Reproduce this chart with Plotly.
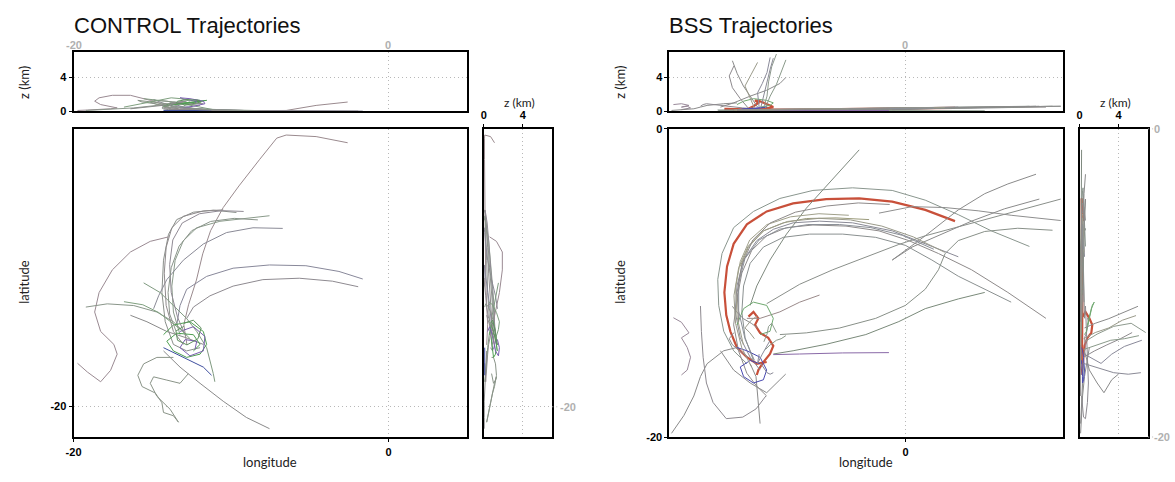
import plotly.graph_objects as go

W, H = 1175, 482


def fx(p):
    return p / W


def fy(p):
    return 1 - p / H


# ---------------- CONTROL trajectories (lon, lat, z) ----------------
ctrl_lon = [
    [-2.6, -4.6, -6.5, -7.1, -8.2, -9.5, -10.5, -11.3, -11.8, -12.2, -12.7, -13.0, -12.8],
    [-9.66, -11.13, -12.39, -13.45, -13.97, -14.29, -14.39, -14.18, -13.66, -12.82, -11.97],
    [-7.56, -9.03, -10.71, -12.18, -13.03, -13.55, -13.76, -13.66, -13.24],
    [-6.72, -8.61, -10.29, -11.76, -13.03, -14.08, -14.60, -14.92],
    [-1.64, -3.15, -5.25, -7.56, -9.87, -11.55, -12.82, -13.24, -13.45],
    [-1.93, -3.57, -5.67, -7.98, -9.87, -11.34, -12.39, -12.82],
    [-13.97, -15.13, -16.39, -17.54, -18.38, -18.66, -18.28, -17.44, -17.23, -17.65, -18.28, -19.12, -19.75],
    [-19.22, -17.86, -16.18, -14.71, -13.66, -12.82],
    [-15.55, -14.50, -13.66, -12.82, -12.18, -11.55, -11.13, -11.03],
    [-14.29, -13.24, -11.97, -10.50, -9.03, -7.56],
    [-13.66, -14.71, -15.55, -15.92, -15.65, -14.81, -14.39, -14.29, -13.66, -13.34, -13.87, -14.71, -15.13, -14.92, -14.08, -13.24, -12.71],
    [-16.39, -15.34, -14.08, -12.82, -11.76],
    [-14.29, -13.66, -12.61, -11.76, -11.55, -11.97, -12.82, -13.66, -14.08, -13.45, -12.39, -11.97, -12.39],
    [-13.24, -12.39, -11.66, -11.76, -12.61, -13.24, -12.92, -12.18, -12.29],
    [-14.29, -13.03, -11.76, -11.24],
    [-10.50, -11.76, -13.03, -13.76, -14.12, -14.24, -14.12, -13.66, -13.03],
    [-9.2, -10.6, -12.0, -13.1, -13.7, -13.9, -13.8, -13.4, -12.9],
    [-8.3, -9.8, -11.3, -12.5, -13.3, -13.8, -14.0, -13.9, -13.5],
    [-16.8, -15.6, -14.6, -13.8, -13.2, -12.6],
    [-13.0, -12.4, -11.9, -12.1, -12.8, -13.4, -13.5, -13.0],
]
ctrl_lat = [
    [-2.9, -2.5, -2.4, -2.6, -4.0, -5.7, -7.1, -8.6, -10.1, -11.8, -13.4, -14.7, -16.0],
    [-7.42, -7.27, -7.40, -7.88, -8.83, -10.51, -12.61, -14.50, -15.97, -16.39, -16.18],
    [-7.63, -7.78, -7.99, -8.41, -9.25, -10.51, -12.19, -13.87, -15.34],
    [-8.45, -8.41, -8.72, -9.46, -10.51, -11.77, -12.82, -13.66],
    [-11.73, -11.24, -10.87, -10.82, -11.03, -11.56, -12.40, -13.45, -14.71],
    [-12.23, -11.87, -11.68, -11.77, -12.19, -12.82, -13.55, -14.29],
    [-9.0, -9.29, -9.98, -11.14, -12.61, -13.87, -15.13, -15.97, -16.60, -17.65, -18.39, -17.76, -17.19],
    [-13.55, -13.34, -13.45, -13.87, -14.50, -15.34],
    [-11.98, -12.61, -13.45, -14.29, -15.13, -16.18, -17.86, -18.39],
    [-16.39, -17.44, -18.49, -19.65, -20.70, -21.43],
    [-16.81, -16.81, -17.23, -17.97, -18.70, -19.12, -19.75, -20.38, -20.59, -21.01, -20.17, -19.33, -18.49, -18.07, -18.28, -18.49, -17.86],
    [-14.08, -14.50, -15.13, -15.55, -15.97],
    [-15.34, -14.71, -14.50, -15.13, -15.97, -16.60, -16.81, -16.39, -15.76, -15.24, -15.34, -15.97, -16.39],
    [-15.13, -14.82, -15.45, -16.39, -16.71, -16.18, -15.66, -15.76, -16.29],
    [-16.18, -16.81, -17.44, -17.97],
    [-7.25, -7.32, -7.67, -8.41, -9.67, -11.35, -13.45, -15.13, -15.97],
    [-7.35, -7.3, -7.5, -8.1, -9.2, -10.8, -12.6, -14.2, -15.4],
    [-7.9, -7.8, -8.0, -8.6, -9.6, -11.0, -12.6, -14.0, -15.1],
    [-13.2, -13.4, -13.9, -14.5, -15.0, -15.6],
    [-14.6, -14.4, -14.9, -15.6, -16.0, -15.7, -15.1, -14.8],
]
ctrl_z = [
    [1.1, 0.7, 0.1, 0.08, 0.08, 0.1, 0.1, 0.1, 0.15, 0.2, 0.3, 0.4, 0.3],
    [0.1, 0.1, 0.15, 0.2, 0.2, 0.3, 0.4, 0.6, 0.8, 0.9, 0.7],
    [0.05, 0.1, 0.2, 0.3, 0.5, 0.7, 0.9, 1.1, 1.0],
    [0.05, 0.05, 0.1, 0.2, 0.4, 0.8, 1.2, 1.4],
    [0.03, 0.03, 0.03, 0.05, 0.1, 0.2, 0.4, 0.6, 0.8],
    [0.03, 0.03, 0.03, 0.05, 0.1, 0.2, 0.3, 0.5],
    [0.6, 1.3, 1.9, 1.9, 1.6, 1.2, 0.8, 0.5, 0.4, 0.3, 0.2, 0.15, 0.1],
    [0.1, 0.2, 0.4, 0.7, 1.0, 1.2],
    [1.5, 1.3, 1.1, 0.8, 0.6, 0.4, 0.2, 0.1],
    [0.3, 0.2, 0.1, 0.05, 0.05, 0.05],
    [0.8, 1.0, 1.2, 1.3, 1.1, 0.9, 0.7, 0.5, 0.4, 0.3, 0.5, 0.8, 1.1, 1.3, 1.2, 1.0, 0.8],
    [0.3, 0.5, 0.8, 1.0, 0.9],
    [0.6, 0.8, 1.0, 1.2, 1.3, 1.2, 1.0, 0.9, 0.8, 0.9, 1.1, 1.3, 1.4],
    [0.4, 0.6, 0.9, 1.2, 1.5, 1.6, 1.4, 1.2, 1.0],
    [0.1, 0.1, 0.1, 0.1],
    [0.1, 0.15, 0.2, 0.3, 0.4, 0.5, 0.7, 0.9, 1.1],
    [0.1, 0.15, 0.2, 0.35, 0.5, 0.7, 0.9, 1.1, 1.2],
    [0.05, 0.1, 0.2, 0.3, 0.45, 0.6, 0.8, 1.0, 1.1],
    [0.5, 0.9, 1.3, 1.6, 1.5, 1.2],
    [0.7, 0.9, 1.1, 1.3, 1.4, 1.2, 1.0, 0.8],
]
ctrl_color = ["#9a8a8e", "#8a8f8a", "#8a9a8a", "#8a8a96", "#88889a", "#8e8a90",
              "#9a8a92", "#8a968a", "#7f9a80", "#8a8a8a", "#8a9488", "#8a8a8a",
              "#4f9f52", "#7a5fae", "#3f4f9f", "#8f8a8c", "#908a94", "#8a948a",
              "#7fa07f", "#5f8f5f"]

# ---------------- BSS trajectories (lon, lat, z) ----------------
bss_lon = [
    [3.15, 1.26, -0.84, -2.94, -5.04, -7.14, -8.82, -10.08, -10.92, -11.34, -11.51, -11.39, -11.13, -10.71, -10.08, -9.45, -8.82],
    [-9.98, -9.66, -9.35, -9.56, -9.24, -8.72, -8.40, -8.61, -9.03, -9.35, -9.45],
    [7.88, 5.46, 3.36, 1.26, -0.84, -3.36, -5.88, -7.98, -9.66, -10.92, -11.66, -11.93, -11.87, -11.55, -10.92, -10.08],
    [3.36, 1.26, -0.84, -3.36, -5.46, -7.14, -8.40, -9.45, -10.29, -10.71, -10.82, -10.50, -9.87, -9.24],
    [8.93, 6.51, 4.20, 2.10, 0.21, -1.68, -3.78, -5.88, -7.56, -8.82, -9.77, -10.40, -10.71, -10.92, -10.61, -10.08, -9.45, -8.82],
    [6.72, 5.04, 3.36, 1.68, 0.00, -1.89, -3.99, -6.09, -7.77, -9.03, -9.87, -10.29, -10.40, -10.19, -9.66],
    [-2.31, -4.41, -6.30, -7.77, -9.03, -9.98, -10.50],
    [-2.94, -4.62, -6.30, -7.56, -8.61, -9.45, -9.87],
    [8.30, 6.51, 5.04, 3.36, 1.26, -0.84],
    [9.87, 7.56, 5.46, 3.36, 1.26, -0.42, -2.52, -4.62, -6.72, -7.98, -8.82],
    [9.35, 7.14, 5.04, 3.36, 2.52, 2.10, 1.26, 0.00, -1.89, -4.20, -6.30, -7.98],
    [5.04, 3.36, 1.26, -0.42, -2.52, -5.04, -7.14, -8.40],
    [-1.05, -3.99, -6.72, -8.40],
    [-1.68, 0.42, 2.52, 4.62, 6.72, 8.61, 9.87],
    [8.51, 6.30, 4.20, 2.10, 0.42, -0.84],
    [-14.75, -14.24, -13.76, -14.24, -13.87, -13.66, -13.87, -14.24],
    [-14.87, -14.08, -13.45, -13.03, -12.61, -11.55, -10.71],
    [-13.03, -12.97, -12.86, -12.65, -12.23, -11.39, -10.34, -9.50, -8.87],
    [-9.24, -9.35, -9.50, -9.87],
    [-11.76, -10.92, -9.87, -8.82, -7.98, -7.61],
    [-5.46, -6.72, -7.98, -9.24, -10.08],
    [-10.71, -10.29, -9.66, -8.82, -8.40, -8.61, -9.24],
    [-10.71, -10.08, -9.24, -8.82, -9.03, -9.66, -10.29, -10.50, -9.87, -9.24],
    [-9.4, -9.8, -10.3, -10.7, -11.0],
    [-9.0, -8.8, -8.7, -8.5, -8.2],
    [-9.2, -9.0, -8.8, -8.6, -8.4],
    [-9.6, -9.9, -10.2, -9.8, -9.4],
    [-9.3, -9.4, -9.1, -8.8, -8.6],
    [-10.0, -10.5, -11.0, -11.2, -10.9],
    [-8.9, -8.6, -8.2, -7.9, -7.6],
    [2.5, 0.5, -1.5, -3.5, -5.5, -7.5, -9.0, -10.0, -10.6, -10.9, -10.8, -10.4, -9.8],
    [1.8, -0.2, -2.2, -4.2, -6.2, -8.0, -9.3, -10.2, -10.6, -10.6, -10.2, -9.6],
    [-3.6, -5.5, -7.3, -8.8, -9.9, -10.5, -10.8, -10.7, -10.3],
    [-1.0, -3.0, -5.0, -7.0, -8.6, -9.7, -10.4, -10.7, -10.6],
]
bss_lat = [
    [-5.98, -5.25, -4.72, -4.51, -4.55, -4.83, -5.35, -6.19, -7.45, -8.92, -10.60, -12.07, -13.12, -14.17, -14.80, -15.22, -15.11],
    [-12.17, -11.86, -12.28, -12.70, -13.22, -13.54, -14.06, -14.59, -15.11, -15.63, -15.95],
    [-7.62, -6.61, -5.56, -4.62, -3.99, -3.82, -3.99, -4.51, -5.35, -6.40, -8.08, -9.76, -11.44, -13.12, -14.38, -15.22],
    [-8.29, -7.45, -6.61, -6.09, -5.98, -6.09, -6.51, -7.24, -8.50, -10.18, -11.86, -13.54, -14.80, -15.63],
    [-12.28, -10.60, -9.13, -8.08, -7.24, -6.61, -6.30, -6.23, -6.40, -6.93, -7.87, -9.34, -11.02, -12.70, -14.38, -15.84, -16.68, -17.31],
    [-11.23, -10.39, -9.55, -8.50, -7.55, -7.03, -6.82, -6.82, -7.03, -7.66, -8.71, -10.18, -11.86, -13.54, -15.01],
    [-5.88, -5.77, -5.81, -6.09, -6.61, -7.66, -8.92],
    [-1.36, -3.25, -5.14, -6.82, -8.50, -10.18, -11.44],
    [-2.94, -3.57, -4.20, -5.25, -6.93, -8.50],
    [-4.55, -5.18, -5.77, -6.36, -6.93, -7.49, -8.29, -9.13, -10.07, -10.81, -11.33],
    [-6.57, -6.44, -6.65, -7.24, -8.08, -9.13, -10.39, -11.44, -12.28, -12.91, -13.22, -13.33],
    [-10.60, -11.02, -11.65, -12.49, -13.33, -13.96, -14.38, -14.59],
    [-14.50, -14.52, -14.59, -14.63],
    [-5.46, -5.04, -5.10, -5.31, -5.60, -5.81, -5.94],
    [-4.55, -5.18, -5.98, -6.93, -7.66, -8.50],
    [-12.24, -12.53, -13.22, -13.54, -14.17, -14.80, -15.63, -15.95],
    [-19.73, -18.57, -17.31, -16.05, -15.22, -14.38, -14.17],
    [-11.48, -13.12, -14.80, -16.47, -17.73, -18.78, -18.68, -18.15, -17.31],
    [-19.10, -17.52, -16.05, -15.22],
    [-14.38, -15.63, -16.47, -17.10, -16.26, -15.89],
    [-10.77, -11.23, -11.86, -12.28, -12.28],
    [-12.70, -11.65, -11.23, -11.44, -12.28, -13.12, -13.33],
    [-14.17, -14.38, -14.80, -15.63, -16.26, -16.47, -16.05, -15.43, -15.01, -15.22],
    [-12.9, -12.6, -12.3, -11.9, -11.5],
    [-13.8, -13.3, -12.8, -12.6, -13.2],
    [-15.2, -15.5, -15.8, -15.9, -15.8],
    [-13.6, -13.2, -12.9, -12.4, -12.1],
    [-14.6, -15.2, -14.6, -14.1, -13.7],
    [-14.8, -14.4, -14.0, -13.6, -13.2],
    [-14.3, -14.0, -13.7, -13.6, -13.4],
    [-8.0, -7.0, -6.3, -5.9, -5.8, -6.0, -6.6, -7.6, -9.0, -10.8, -12.6, -14.2, -15.4],
    [-7.8, -6.9, -6.4, -6.2, -6.2, -6.5, -7.2, -8.4, -10.0, -11.8, -13.6, -15.0],
    [-5.6, -5.5, -5.7, -6.2, -7.2, -8.6, -10.3, -12.2, -14.0],
    [-4.9, -4.8, -5.0, -5.4, -6.1, -7.2, -8.8, -10.6, -12.5],
]
bss_z = [
    [0.4, 0.35, 0.3, 0.25, 0.2, 0.2, 0.2, 0.2, 0.25, 0.3, 0.3, 0.3, 0.3, 0.25, 0.2, 0.2, 0.2],
    [0.3, 0.6, 1.0, 1.3, 1.2, 0.8, 0.5, 0.4, 0.3, 0.2, 0.2],
    [0.6, 0.55, 0.5, 0.45, 0.4, 0.35, 0.3, 0.25, 0.2, 0.2, 0.15, 0.15, 0.1, 0.1, 0.1, 0.1],
    [0.5, 0.45, 0.4, 0.35, 0.3, 0.25, 0.2, 0.2, 0.15, 0.15, 0.1, 0.1, 0.1, 0.1],
    [0.5, 0.45, 0.4, 0.4, 0.35, 0.3, 0.3, 0.25, 0.2, 0.2, 0.15, 0.15, 0.1, 0.1, 0.1, 0.1, 0.1, 0.1],
    [0.45, 0.4, 0.4, 0.35, 0.3, 0.3, 0.25, 0.2, 0.2, 0.15, 0.15, 0.1, 0.1, 0.1, 0.1],
    [0.3, 0.25, 0.2, 0.2, 0.15, 0.15, 0.1],
    [0.2, 0.2, 0.15, 0.15, 0.1, 0.1, 0.1],
    [0.6, 0.5, 0.45, 0.4, 0.3, 0.2],
    [0.6, 0.55, 0.5, 0.45, 0.4, 0.35, 0.3, 0.25, 0.2, 0.2, 0.2],
    [0.6, 0.55, 0.5, 0.45, 0.4, 0.35, 0.3, 0.25, 0.2, 0.2, 0.15, 0.15],
    [0.05, 0.05, 0.05, 0.05, 0.05, 0.05, 0.1, 0.1],
    [0.1, 0.1, 0.1, 0.1],
    [0.3, 0.4, 0.45, 0.5, 0.55, 0.6, 0.6],
    [0.6, 0.5, 0.45, 0.4, 0.3, 0.2],
    [0.8, 0.9, 0.7, 0.5, 0.6, 0.4, 0.3, 0.2],
    [0.1, 0.2, 0.3, 0.5, 0.7, 0.9, 1.0],
    [0.6, 0.7, 0.8, 0.9, 0.8, 0.6, 0.4, 0.3, 0.2],
    [0.1, 0.2, 0.3, 0.4],
    [0.5, 1.0, 1.8, 2.5, 3.3, 4.0],
    [0.3, 0.25, 0.2, 0.2, 0.2],
    [0.8, 1.2, 1.5, 1.3, 1.0, 0.7, 0.5],
    [0.2, 0.3, 0.4, 0.5, 0.4, 0.3, 0.3, 0.2, 0.2, 0.2],
    [0.5, 1.6, 3.0, 4.5, 6.0],
    [0.5, 1.8, 3.5, 5.3, 6.8],
    [0.4, 2.0, 3.5, 5.0, 6.3],
    [0.4, 1.6, 3.0, 4.4, 5.8],
    [0.5, 2.2, 3.3, 4.6, 6.4],
    [0.4, 1.5, 2.8, 4.2, 5.4],
    [0.4, 1.8, 3.2, 4.6, 6.1],
    [0.45, 0.4, 0.35, 0.3, 0.3, 0.25, 0.2, 0.2, 0.15, 0.15, 0.1, 0.1, 0.1],
    [0.4, 0.35, 0.3, 0.3, 0.25, 0.2, 0.2, 0.15, 0.15, 0.1, 0.1, 0.1],
    [0.3, 0.25, 0.25, 0.2, 0.2, 0.15, 0.15, 0.1, 0.1],
    [0.35, 0.3, 0.25, 0.2, 0.2, 0.15, 0.15, 0.1, 0.1],
]
bss_color = ["#c8503a", "#c8503a", "#8a968e", "#8a8a96", "#8e8a8a", "#8a9090",
             "#9a9a7a", "#7f8a7f", "#8a8a8a", "#8a8f8a", "#889088", "#7a8a7a",
             "#8a6aa8", "#8e8e8e", "#8a8a8a", "#9a8a9a", "#8a8a8a", "#8e8a90",
             "#8a8a8a", "#8a8a8a", "#9a8a8a", "#6fa86f", "#4a4ab0", "#8a8a8a",
             "#8e9a8e", "#8a8a96", "#9a9a8a", "#8a8a9a", "#8e8a8e", "#8a9a8a",
             "#9a9a8a", "#8a8f96", "#a0a08a", "#8e8a8a"]
bss_width = [2.2, 2.2] + [1] * 32

fig = go.Figure()


def add_set(lons, lats, zs, colors, widths, ax):
    for lo, la, z, c, w in zip(lons, lats, zs, colors, widths):
        common = dict(mode="lines", line=dict(color=c, width=w), showlegend=False, hoverinfo="skip")
        fig.add_trace(go.Scatter(x=lo, y=la, xaxis=ax[0], yaxis=ax[1], **common))
        fig.add_trace(go.Scatter(x=lo, y=z, xaxis=ax[2], yaxis=ax[3], **common))
        fig.add_trace(go.Scatter(x=z, y=la, xaxis=ax[4], yaxis=ax[5], **common))


add_set(ctrl_lon, ctrl_lat, ctrl_z, ctrl_color, [1] * len(ctrl_lon), ("x", "y", "x2", "y2", "x3", "y3"))
add_set(bss_lon, bss_lat, bss_z, bss_color, bss_width, ("x4", "y4", "x5", "y5", "x6", "y6"))

tickfont = dict(family="Liberation Sans", size=11, color="black", weight="bold")
base = dict(showline=True, mirror=True, linecolor="black", linewidth=2, zeroline=False,
            ticks="outside", ticklen=3, tickcolor="black", tickwidth=1,
            showgrid=True, gridcolor="#b8b8b8", griddash="1px,3px", gridwidth=1,
            tickfont=tickfont, fixedrange=True)

main_y = [fy(442.5), fy(126)]
top_y = [fy(108), fy(47.5)]

fig.update_layout(
    width=W, height=H, margin=dict(l=0, r=0, t=0, b=0),
    paper_bgcolor="white", plot_bgcolor="white",
    xaxis=dict(base, domain=[fx(66), fx(462.5)], range=[-20, 5], tickvals=[-20, 0], ticktext=["-20", "0"], anchor="y"),
    yaxis=dict(base, domain=main_y, range=[-22, -2], tickvals=[-20], ticktext=["-20"], anchor="x"),
    xaxis2=dict(base, domain=[fx(66), fx(462.5)], range=[-20, 5], tickvals=[-20, 0], showticklabels=False, ticks="", anchor="y2"),
    yaxis2=dict(base, domain=top_y, range=[0, 7], tickvals=[0, 4], anchor="x2"),
    xaxis3=dict(base, domain=[fx(479), fx(548)], range=[0, 7], tickvals=[0, 4], side="top", anchor="y3"),
    yaxis3=dict(base, domain=main_y, range=[-22, -2], tickvals=[-20], showticklabels=False, ticks="", anchor="x3"),
    xaxis4=dict(base, domain=[fx(666), fx(1062)], range=[-15, 10], tickvals=[0], anchor="y4"),
    yaxis4=dict(base, domain=main_y, range=[-20, 0], tickvals=[-20, 0], ticktext=["-20", "0"], anchor="x4"),
    xaxis5=dict(base, domain=[fx(666), fx(1062)], range=[-15, 10], tickvals=[0], showticklabels=False, ticks="", anchor="y5"),
    yaxis5=dict(base, domain=top_y, range=[0, 7], tickvals=[0, 4], anchor="x5"),
    xaxis6=dict(base, domain=[fx(1079), fx(1147.5)], range=[0, 7], tickvals=[0, 4], side="top", anchor="y6"),
    yaxis6=dict(base, domain=main_y, range=[-20, 0], tickvals=[-20, 0], showticklabels=False, ticks="", anchor="x6"),
)

lab = dict(family="Lato", size=13, color="#222222")
lab_small = dict(family="Lato", size=12, color="#222222")
grey = dict(family="Liberation Sans", size=11, color="#b0b0b0", weight="bold")


def ann(text, x, y, font, xanchor="center", yanchor="middle", angle=0):
    fig.add_annotation(text=text, x=fx(x), y=fy(y), xref="paper", yref="paper", showarrow=False,
                       font=font, xanchor=xanchor, yanchor=yanchor, textangle=angle)


title_font = dict(family="Liberation Sans", size=22, color="#111111")
ann("CONTROL Trajectories", 64, 20, title_font, xanchor="left")
ann("BSS Trajectories", 664, 20, title_font, xanchor="left")

for xc, xl, xs in ((264, 16, 515), (864, 616, 1115)):
    ann("longitude", xc, 468, lab)
    ann("latitude", xl, 283, lab, angle=-90)
    ann("z (km)", xl, 78, lab, angle=-90)
    ann("z (km)", xs, 99, lab_small)

ann("-20", 66, 40, grey)
ann("0", 383, 40, grey)
ann("-20", 564, 411, grey)
ann("0", 903, 40, grey)
ann("0", 1157, 126, grey)
ann("-20", 1162, 442, grey)

dot = dict(color="#b8b8b8", width=1, dash="1px,3px")
for x0, x1, y in ((548, 555, 411), (1148, 1153, 126), (1148, 1153, 442)):
    fig.add_shape(type="line", x0=fx(x0), x1=fx(x1), y0=fy(y), y1=fy(y), xref="paper", yref="paper", line=dot)

fig.write_html("out.html", config={"displayModeBar": False},
               post_script="document.body.style.margin='0';document.body.style.overflow='hidden';")
